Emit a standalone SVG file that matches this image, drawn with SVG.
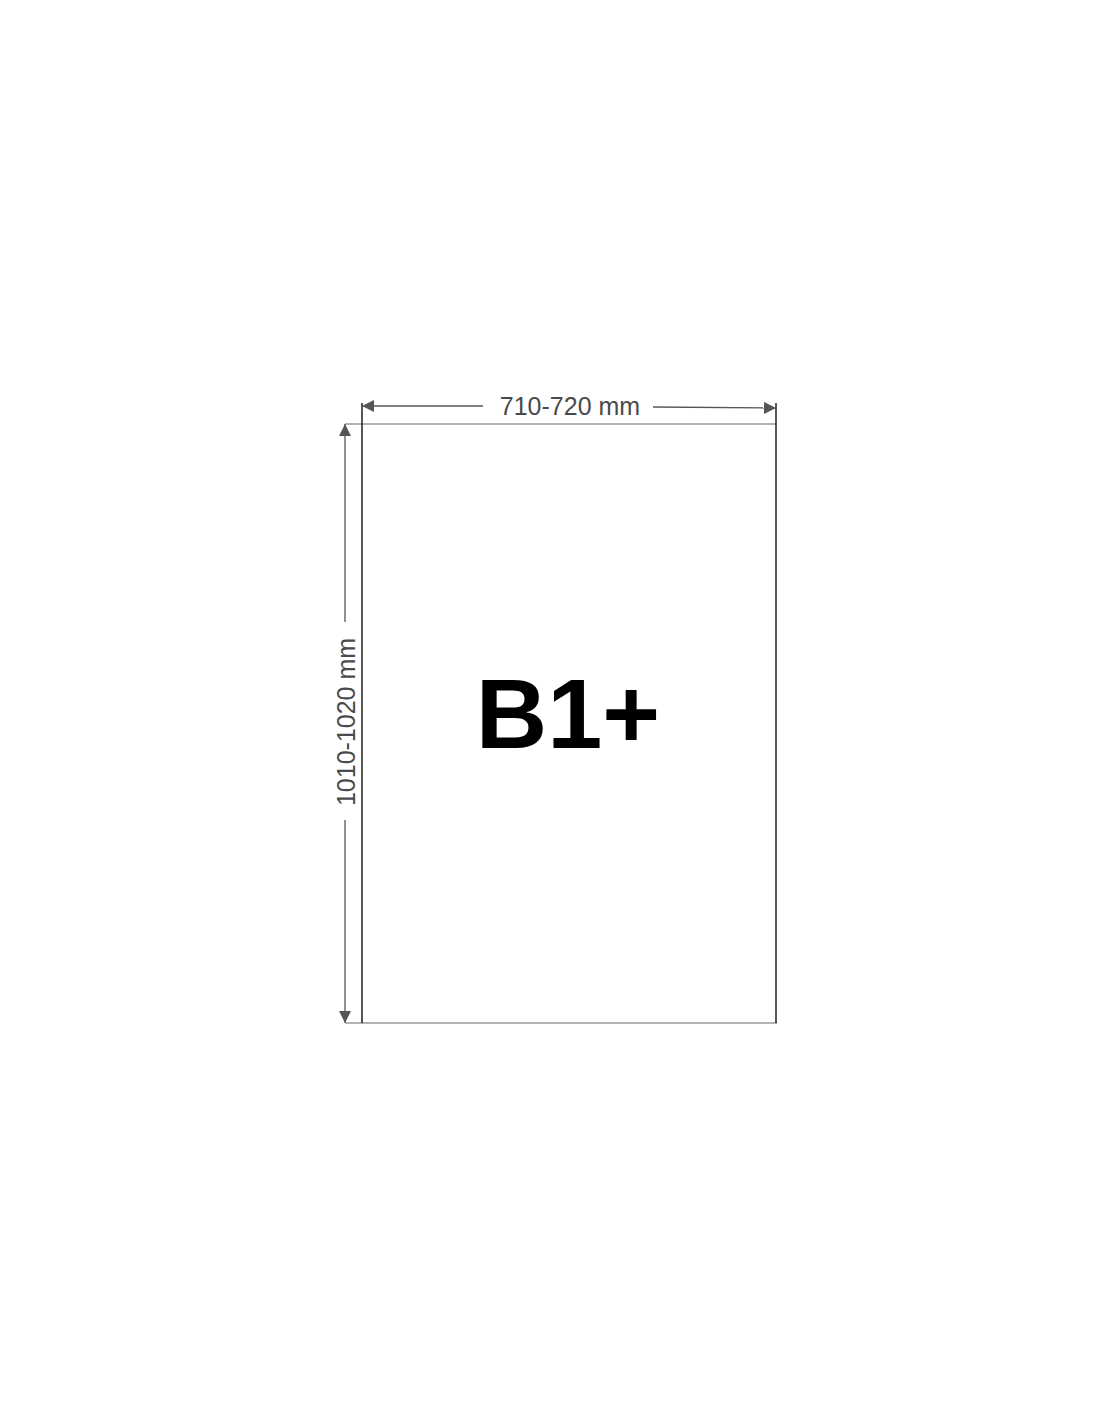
<svg xmlns="http://www.w3.org/2000/svg" width="1100" height="1422" viewBox="0 0 1100 1422">
<style>
.dim{stroke:#555;stroke-width:1.3;fill:none}
.dimtxt{font-family:"Liberation Sans",Arial,sans-serif;font-size:25px;fill:#4a4a4a;text-anchor:middle}
</style>
<defs>
<marker id="ah" viewBox="0 0 10 10" refX="10" refY="5" markerWidth="12" markerHeight="12" markerUnits="userSpaceOnUse" orient="auto">
<path d="M0,0 L10,5 L0,10 z" fill="#555"/>
</marker>
</defs>
<rect width="1100" height="1422" fill="#fff"/>
<g id="sheet">
<line x1="345" y1="424" x2="777" y2="424" stroke="#999" stroke-width="1.5"/>
<line x1="345" y1="1023" x2="777" y2="1023" stroke="#999" stroke-width="1.5"/>
<line x1="362" y1="403" x2="362" y2="1023" stroke="#111" stroke-width="1.4"/>
<line x1="776" y1="403" x2="776" y2="1023" stroke="#111" stroke-width="1.4"/>
<text x="568" y="748" font-family="Liberation Sans,Arial,sans-serif" font-weight="bold" font-size="99" text-anchor="middle" fill="#000">B1+</text>
</g>
<g id="connectors">
<line class="dim" x1="483" y1="406" x2="362" y2="406" marker-end="url(#ah)"/>
<line class="dim" x1="653" y1="407" x2="776" y2="408" marker-end="url(#ah)"/>
<line class="dim" x1="345" y1="622" x2="345" y2="424" marker-end="url(#ah)"/>
<line class="dim" x1="345" y1="820" x2="345" y2="1023" marker-end="url(#ah)"/>
</g>
<g id="labels">
<text class="dimtxt" x="570" y="415">710-720 mm</text>
<text class="dimtxt" transform="translate(355,722) rotate(-90)">1010-1020 mm</text>
</g>
</svg>
